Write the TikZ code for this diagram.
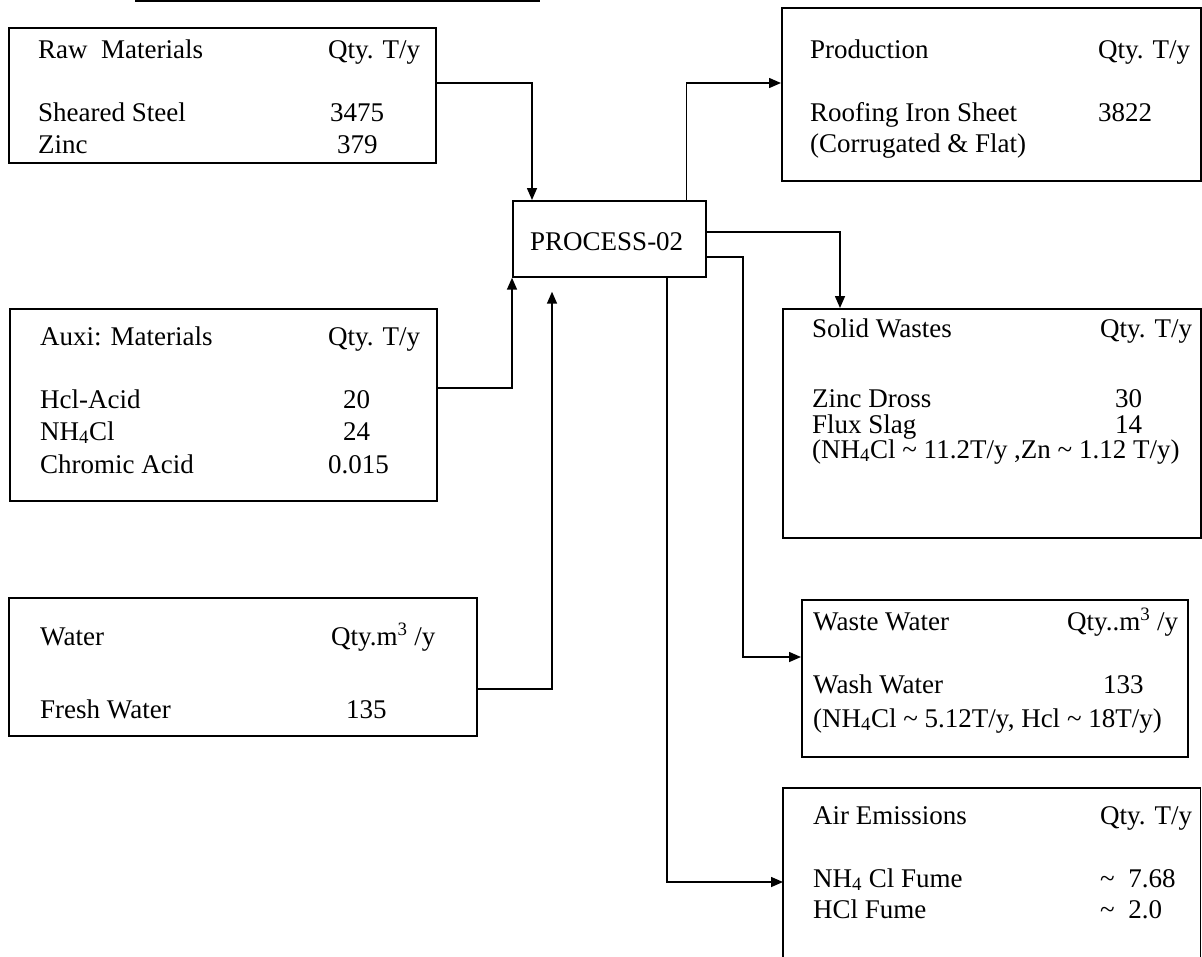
\documentclass[tikz,border=0pt]{standalone}
\usepackage{fontspec}
\setmainfont{Liberation Serif}
\usetikzlibrary{arrows.meta}
\begin{document}
\begin{tikzpicture}[x=1pt,y=-1pt,
  box/.style={draw,line width=1.7pt,inner sep=0pt,anchor=north west},
  openbox/.style={inner sep=0pt,anchor=north west},
  txt/.style={anchor=base west,inner sep=0pt,font=\fontsize{27}{31}\selectfont},
  conn/.style={line width=1.5pt,-{Triangle[length=12pt,width=10pt]}}]
\useasboundingbox (0,0) rectangle (1202,956);
\draw[line width=2.5pt] (135,1) -- (540,1);
% boxes
\node[box,minimum width=427pt,minimum height=135pt] (raw) at (8,27) {};
\node[box,minimum width=427pt,minimum height=192pt] (auxi) at (9,308) {};
\node[box,minimum width=468pt,minimum height=138pt] (water) at (8,597) {};
\node[box,minimum width=193pt,minimum height=76pt] (proc) at (512,200) {};
\node[box,minimum width=419pt,minimum height=173pt] (prod) at (781,7) {};
\node[box,minimum width=418pt,minimum height=229pt] (solid) at (782,308) {};
\node[box,minimum width=386pt,minimum height=157pt] (ww) at (801,599) {};
\node[openbox,minimum width=417pt,minimum height=170pt] (air) at (783,788) {};
\draw[line width=1.7pt] (air.south west) -- (air.north west) -- (air.north east) -- (air.south east);
% texts
\node[txt] (raw1) at (38,58) {Raw\ \ Materials};
\node[txt] (raw2) at (328,58) {Qty. T/y};
\node[txt] (raw3) at (38,121) {Sheared Steel};
\node[txt] (raw4) at (330,121) {3475};
\node[txt] (raw5) at (38,153) {Zinc};
\node[txt] (raw6) at (337,153) {379};
\node[txt] (aux1) at (40,345) {Auxi: Materials};
\node[txt] (aux2) at (328,345) {Qty. T/y};
\node[txt] (aux3) at (40,408) {Hcl-Acid};
\node[txt] (aux4) at (343,408) {20};
\node[txt] (aux5) at (40,440) {NH\textsubscript{4}Cl};
\node[txt] (aux6) at (343,440) {24};
\node[txt] (aux7) at (40,473) {Chromic Acid};
\node[txt] (aux8) at (328,473) {0.015};
\node[txt] (wat1) at (40,645) {Water};
\node[txt] (wat2) at (331,645) {Qty.m\textsuperscript{3} /y};
\node[txt] (wat3) at (40,718) {Fresh Water};
\node[txt] (wat4) at (346,718) {135};
\node[txt] (proct) at (530,250) {PROCESS-02};
\node[txt] (prd1) at (810,58) {Production};
\node[txt] (prd2) at (1098,58) {Qty. T/y};
\node[txt] (prd3) at (810,121) {Roofing Iron Sheet};
\node[txt] (prd4) at (1098,121) {3822};
\node[txt] (prd5) at (810,152) {(Corrugated \& Flat)};
\node[txt] (sol1) at (812,337) {Solid Wastes};
\node[txt] (sol2) at (1100,337) {Qty. T/y};
\node[txt] (sol3) at (812,407) {Zinc Dross};
\node[txt] (sol4) at (1115,407) {30};
\node[txt] (sol5) at (812,433) {Flux Slag};
\node[txt] (sol6) at (1115,433) {14};
\node[txt] (sol7) at (812,458) {(NH\textsubscript{4}Cl \textasciitilde{} 11.2T/y ,Zn \textasciitilde{} 1.12 T/y)};
\node[txt] (ww1) at (813,630) {Waste Water};
\node[txt] (ww2) at (1067,630) {Qty..m\textsuperscript{3} /y};
\node[txt] (ww3) at (813,693) {Wash Water};
\node[txt] (ww4) at (1103,693) {133};
\node[txt] (ww5) at (813,727) {(NH\textsubscript{4}Cl \textasciitilde{} 5.12T/y, Hcl \textasciitilde{} 18T/y)};
\node[txt] (air1) at (813,824) {Air Emissions};
\node[txt] (air2) at (1100,824) {Qty. T/y};
\node[txt] (air3) at (813,887) {NH\textsubscript{4} Cl Fume};
\node[txt] (air4) at (1100,887) {\textasciitilde\ \ 7.68};
\node[txt] (air5) at (813,918) {HCl Fume};
\node[txt] (air6) at (1100,918) {\textasciitilde\ \ 2.0};
% connectors
\draw[conn] ([yshift=-56pt]raw.north east) -| ([xshift=20pt]proc.north west);
\draw[conn] ([yshift=-80pt]auxi.north east) -| (proc.south west);
\draw[conn] ([yshift=-92pt]water.north east) -| ([xshift=40pt,yshift=-14pt]proc.south west);
\draw[conn] ([xshift=-20pt]proc.north east) |- ([yshift=-76pt]prod.north west);
\draw[conn] ([yshift=-32pt]proc.north east) -| ([xshift=58pt]solid.north west);
\draw[conn] ([yshift=-57pt]proc.north east) -| ([xshift=-58pt,yshift=-58pt]ww.north west) -- ([yshift=-58pt]ww.north west);
\draw[conn] ([xshift=155pt]proc.south west) |- ([yshift=-94pt]air.north west);
\end{tikzpicture}
\end{document}
